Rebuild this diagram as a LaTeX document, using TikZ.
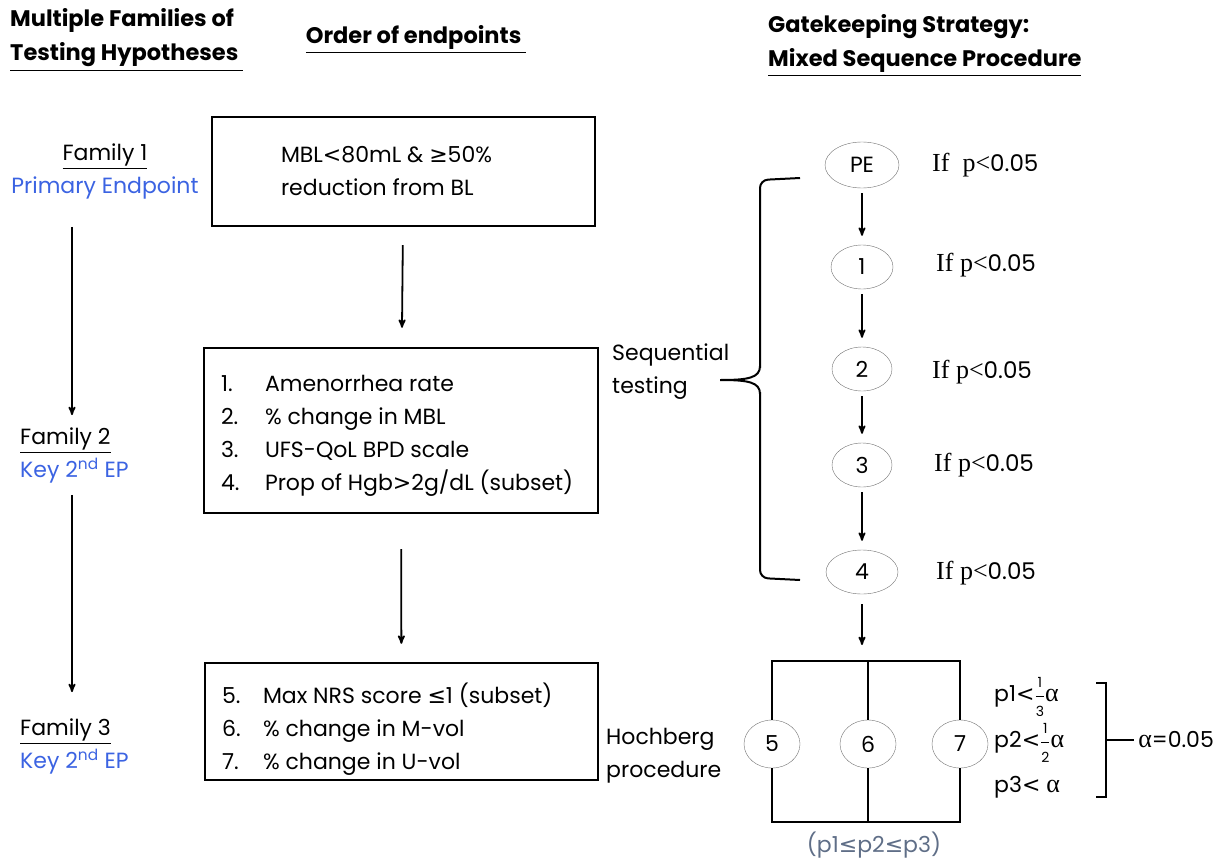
\documentclass[tikz,border=0pt]{standalone}
\usepackage{amsmath}
\usepackage{fontspec}
\setmainfont{Poppins}
\newfontfamily\timesf{Liberation Serif}
\newfontfamily\symf{DejaVu Sans}
\usepackage{tikz}
\usetikzlibrary{arrows,positioning,shapes.geometric}
\definecolor{famblue}{RGB}{59,99,226}
\definecolor{ordgray}{RGB}{95,110,135}
\tikzset{ep/.style={draw=gray!90!black,thin,ellipse,inner sep=0pt,minimum width=62pt,minimum height=44pt}}
\newcommand{\pfrac}[2]{$\genfrac{}{}{0.8pt}{0}{\mbox{\fontsize{14}{14}\selectfont #1}}{\mbox{\fontsize{14}{14}\selectfont #2}}$}
\newcommand{\alf}{{\timesf\fontsize{26}{28}\selectfont α}}

\begin{document}
\begin{tikzpicture}[x=1pt, y=-1pt, >=stealth', line width=1.8pt,
  every node/.style={font=\fontsize{22}{33}\selectfont},
  ttl/.style={font=\bfseries\fontsize{22.5}{34}\selectfont, align=left},
  ebox/.style={draw, line width=2.4pt},
  iflab/.style={font=\fontsize{23}{28}\selectfont, anchor=west}]
\useasboundingbox (0,0) rectangle (1230,859);
    % titles
    \node[ttl, anchor=west] (ttlfam) at (6,40) {Multiple Families of\\\underline{Testing Hypotheses\ }};
    \node[ttl] (ttlord) at (416,40) {\underline{Order of endpoints\ }};
    \node[ttl, anchor=west] (ttlgate) at (764,46) {Gatekeeping Strategy:\\\underline{Mixed Sequence Procedure}};
    % families
    \node[align=center] (fam1) at (105,171) {\underline{Family 1}\\\textcolor{famblue}{Primary Endpoint}};
    \node[align=left, anchor=west] (fam2) at (16,455) {\underline{Family 2}\\\textcolor{famblue}{Key 2\textsuperscript{nd} EP}};
    \node[align=left, anchor=west] (fam3) at (16,746) {\underline{Family 3}\\\textcolor{famblue}{Key 2\textsuperscript{nd} EP}};
    \draw[->, shorten <=24pt, shorten >=8pt] (72,0 |- fam1.south) -- (72,0 |- fam2.north);
    \draw[->, shorten <=8pt, shorten >=22pt] (72,0 |- fam2.south) -- (72,0 |- fam3.north);
    % order of endpoints
    \node[ebox, minimum width=383pt, minimum height=109pt] (box1) at (403.5,171.5) {};
    \node[align=left, anchor=west] (txt1) at ([xshift=66pt]box1.west) {MBL{\symf <}80mL \& {\symf ≥}50\%\\reduction from BL};
    \node[ebox, minimum width=394pt, minimum height=165pt] (box2) at (401,430.5) {};
    \node[align=left, anchor=west] (txt2) at ([xshift=14pt, yshift=-5pt]box2.west)
      {\makebox[44pt][l]{1.}Amenorrhea rate\\\makebox[44pt][l]{2.}\% change in MBL\\
       \makebox[44pt][l]{3.}UFS-QoL BPD scale\\\makebox[44pt][l]{4.}Prop of Hgb{\symf >}2g/dL (subset)};
    \node[ebox, minimum width=393pt, minimum height=117pt] (box3) at (401.5,721.5) {};
    \node[align=left, anchor=west] (txt3) at ([xshift=14pt, yshift=-8pt]box3.west)
      {\makebox[41pt][l]{5.}Max NRS score {\symf ≤}1 (subset)\\\makebox[41pt][l]{6.}\% change in M-vol\\
       \makebox[41pt][l]{7.}\% change in U-vol};
    \draw[->, shorten <=18pt, shorten >=19pt] (box1) -- (box2);
    \draw[->, shorten <=35pt, shorten >=18pt] (box2) -- (box3);
    % sequential part
    \node[ep, minimum width=74pt, minimum height=46pt] (pe) at (862,165) {PE};
    \node[ep] (ep1) at (862,267) {1};
    \node[ep, minimum width=60pt] (ep2) at (862,369) {2};
    \node[ep, minimum width=60pt] (ep3) at (862,465) {3};
    \node[ep, minimum width=72pt] (ep4) at (862,572) {4};
    \foreach \a/\b in {pe/ep1, ep1/ep2, ep2/ep3, ep3/ep4}
      \draw[->, shorten <=5pt, shorten >=9pt] (\a) -- (\b);
    \node[iflab] (if0) at (928,165) {{\timesf\fontsize{26}{28}\selectfont If\ \ p<}0.05};
    \node[iflab] (if1) at (932,265) {{\timesf\fontsize{26}{28}\selectfont If p<}0.05};
    \node[iflab] (if2) at (928,372) {{\timesf\fontsize{26}{28}\selectfont If p<}0.05};
    \node[iflab] (if3) at (930,465) {{\timesf\fontsize{26}{28}\selectfont If p<}0.05};
    \node[iflab] (if4) at (932,573) {{\timesf\fontsize{26}{28}\selectfont If p<}0.05};
    \node[align=left, anchor=west] (seq) at (608,372) {Sequential\\testing};
    \draw[line width=2pt, rounded corners=8pt] (800,178) -- (760,180) -- (760,368);
    \draw[line width=2pt] (760,366) .. controls (760,378) and (748,380) .. (720,380)
      .. controls (748,380) and (760,382) .. (760,394);
    \draw[line width=2pt, rounded corners=8pt] (760,392) -- (760,578) -- (800,580);
    % hochberg part
    \coordinate (htop) at (866,661);
    \coordinate (hbot) at (866,822);
    \draw[->, shorten <=10pt, shorten >=16pt] (ep4.south) -- (ep4.south |- htop);
    \node[ep, minimum width=56pt, minimum height=48pt] (c5) at (772,744) {5};
    \node[ep, minimum width=56pt, minimum height=48pt] (c6) at (868,744) {6};
    \node[ep, minimum width=56pt, minimum height=48pt] (c7) at (960,744) {7};
    \draw[line width=2.2pt] (c5.north) |- (htop) -| (c7.north);
    \draw[line width=2.2pt] (c6.north) -- (c6.north |- htop);
    \draw[line width=2.2pt] (c5.south) |- (hbot) -| (c7.south);
    \draw[line width=2.2pt] (c6.south) -- (c6.south |- hbot);
    \node[text=ordgray] (order) at (874,845) {(p1{\symf ≤}p2{\symf ≤}p3)};
    \node[align=left, anchor=west] (hoch) at (602,756) {Hochberg\\procedure};
    \node[anchor=west] (p1) at (990,697) {p1{\symf <}\pfrac{1}{3}\alf};
    \node[anchor=west] (p2) at (990,743) {p2{\symf <}\pfrac{1}{2}\alf};
    \node[anchor=west] (p3) at (990,787) {p3{\symf <} \alf};
    \draw[line width=2pt] (1096,683) -- (1106,683) -- (1106,797) -- (1096,797);
    \node[anchor=west] (alpha) at (1134,740) {\alf=0.05};
    \draw[line width=2pt] (1106,740) -- (alpha.west);
\end{tikzpicture}
\end{document}
